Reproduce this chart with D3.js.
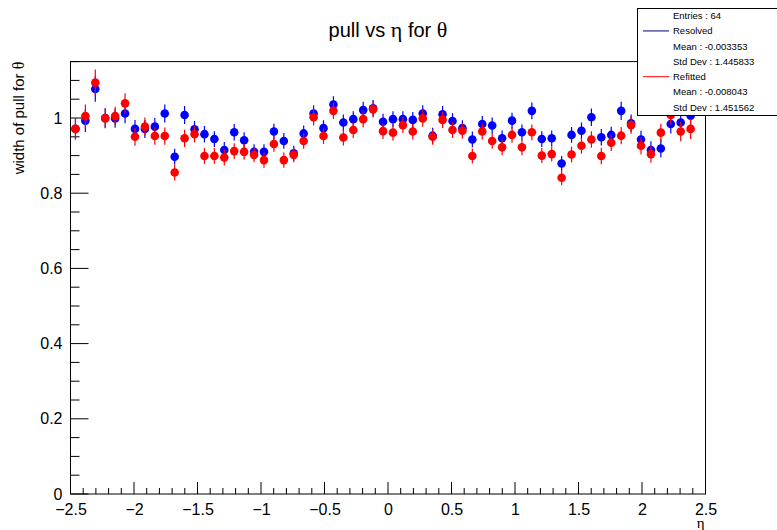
<!DOCTYPE html>
<html>
<head>
<meta charset="utf-8">
<script src="https://cdn.jsdelivr.net/npm/d3@7"></script>
<style>
  html, body { margin: 0; padding: 0; background: #fff; }
  svg { display: block; font-family: "Liberation Sans", Arial, Helvetica, sans-serif; }
</style>
</head>
<body>
<svg id="chart" width="777" height="530"></svg>
<script>
// Histogram binning in eta: 64 bins from -2.5 to 2.5
const etaMin = -2.5, etaMax = 2.5, nBins = 64;

// Fitted pull widths per eta bin (last bin empty)
const resolved = [0.971, 0.993, 1.077, 1.000, 0.999, 1.012, 0.971, 0.971, 0.977, 1.012,
  0.897, 1.008, 0.970, 0.957, 0.944, 0.915, 0.962, 0.941, 0.910, 0.910,
  0.964, 0.939, 0.906, 0.959, 1.012, 0.973, 1.036, 0.988, 0.997, 1.021,
  1.026, 0.990, 0.997, 0.997, 0.995, 1.012, 0.953, 1.010, 0.992, 0.973,
  0.943, 0.984, 0.980, 0.946, 0.993, 0.962, 1.019, 0.944, 0.946, 0.879,
  0.955, 0.966, 1.002, 0.949, 0.955, 1.019, 0.986, 0.943, 0.915, 0.919,
  0.984, 0.988, 1.006, null];
const resolvedErr = [0.028, 0.030, 0.034, 0.026, 0.025, 0.026, 0.024, 0.024, 0.023, 0.024,
  0.021, 0.024, 0.022, 0.022, 0.021, 0.021, 0.022, 0.021, 0.020, 0.020,
  0.021, 0.021, 0.020, 0.021, 0.022, 0.021, 0.022, 0.021, 0.021, 0.022,
  0.022, 0.021, 0.021, 0.021, 0.021, 0.022, 0.021, 0.022, 0.021, 0.021,
  0.021, 0.021, 0.021, 0.021, 0.021, 0.021, 0.022, 0.021, 0.021, 0.020,
  0.021, 0.022, 0.023, 0.022, 0.022, 0.024, 0.023, 0.023, 0.023, 0.024,
  0.025, 0.026, 0.027, null];

const refitted = [0.971, 1.005, 1.094, 0.999, 1.005, 1.039, 0.950, 0.977, 0.952, 0.952,
  0.855, 0.946, 0.957, 0.899, 0.899, 0.895, 0.912, 0.910, 0.902, 0.888,
  0.931, 0.888, 0.902, 0.939, 1.002, 0.952, 1.019, 0.948, 0.968, 0.997,
  1.023, 0.965, 0.961, 0.981, 0.964, 0.999, 0.950, 0.995, 0.968, 0.966,
  0.899, 0.964, 0.939, 0.922, 0.955, 0.922, 0.962, 0.900, 0.904, 0.841,
  0.903, 0.926, 0.943, 0.899, 0.934, 0.953, 0.981, 0.926, 0.904, 0.961,
  1.008, 0.964, 0.971, null];
const refittedErr = [0.028, 0.031, 0.035, 0.026, 0.025, 0.027, 0.024, 0.024, 0.023, 0.023,
  0.021, 0.023, 0.022, 0.021, 0.021, 0.021, 0.021, 0.021, 0.020, 0.020,
  0.021, 0.020, 0.020, 0.021, 0.022, 0.021, 0.022, 0.021, 0.021, 0.022,
  0.022, 0.021, 0.021, 0.021, 0.021, 0.022, 0.021, 0.022, 0.021, 0.021,
  0.020, 0.021, 0.021, 0.021, 0.021, 0.021, 0.021, 0.020, 0.020, 0.020,
  0.021, 0.021, 0.022, 0.022, 0.022, 0.023, 0.023, 0.023, 0.023, 0.024,
  0.025, 0.026, 0.027, null];

const xTicks = [-2.5, -2, -1.5, -1, -0.5, 0, 0.5, 1, 1.5, 2, 2.5];
const xTickLabels = ["\u22122.5", "\u22122", "\u22121.5", "\u22121", "\u22120.5", "0", "0.5", "1", "1.5", "2", "2.5"];
const yTicks = [0, 0.2, 0.4, 0.6, 0.8, 1];
const yTickLabels = ["0", "0.2", "0.4", "0.6", "0.8", "1"];

const statsLines = [
  { text: "Entries : 64" },
  { text: "Resolved", color: "#000080" },
  { text: "Mean : -0.003353" },
  { text: "Std Dev : 1.445833" },
  { text: "Refitted", color: "#ff0000" },
  { text: "Mean : -0.008043" },
  { text: "Std Dev : 1.451562" }
];

const serif = "'Liberation Serif', 'DejaVu Serif', serif";
const svg = d3.select("#chart");
const frame = { left: 70.5, right: 705.5, top: 61.6, bottom: 494 };

const x = d3.scaleLinear().domain([etaMin, etaMax]).range([frame.left, frame.right]);
const y = d3.scaleLinear().domain([0, 1.15]).range([frame.bottom, frame.top]);
const binW = (etaMax - etaMin) / nBins;
const centers = d3.range(nBins).map(i => etaMin + (i + 0.5) * binW);

// Title with Greek symbols in a serif face
const title = svg.append("text")
  .attr("x", 388).attr("y", 37)
  .attr("text-anchor", "middle")
  .attr("font-size", 20);
title.append("tspan").text("pull vs ");
title.append("tspan").attr("font-family", serif).attr("font-size", 22).text("\u03b7");
title.append("tspan").text(" for ");
title.append("tspan").attr("font-family", serif).attr("font-size", 22).text("\u03b8");

// Axes
const xMinor = d3.range(-25, 26).map(v => v / 10).filter(v => Math.abs(v * 2 - Math.round(v * 2)) > 1e-6);
const yMinor = d3.range(0, 24).map(v => v * 0.05).filter(v => Math.abs(v * 5 - Math.round(v * 5)) > 1e-6);

const xAxis = d3.axisBottom(x).tickValues(xTicks).tickSize(0).tickFormat((d, i) => xTickLabels[i]);
const gx = svg.append("g").attr("transform", `translate(0,${frame.bottom})`).call(xAxis);
gx.select(".domain").remove();
gx.selectAll("text").attr("font-size", 16).attr("font-family", null).attr("fill", "#000").attr("dy", "0.95em").attr("y", 6);

const yAxis = d3.axisLeft(y).tickValues(yTicks).tickSize(0).tickFormat((d, i) => yTickLabels[i]);
const gy = svg.append("g").attr("transform", `translate(${frame.left},0)`).call(yAxis);
gy.select(".domain").remove();
gy.selectAll("text").attr("font-size", 16).attr("font-family", null).attr("fill", "#000").attr("x", -8);

const ticks = svg.append("g").attr("stroke", "#000").attr("stroke-width", 1);
xTicks.forEach(v => ticks.append("line").attr("x1", x(v)).attr("x2", x(v)).attr("y1", frame.bottom).attr("y2", frame.bottom - 12));
xMinor.forEach(v => ticks.append("line").attr("x1", x(v)).attr("x2", x(v)).attr("y1", frame.bottom).attr("y2", frame.bottom - 6));
yTicks.forEach(v => ticks.append("line").attr("x1", frame.left).attr("x2", frame.left + 18).attr("y1", y(v)).attr("y2", y(v)));
yMinor.forEach(v => ticks.append("line").attr("x1", frame.left).attr("x2", frame.left + 9).attr("y1", y(v)).attr("y2", y(v)));

// Frame
svg.append("rect")
  .attr("x", frame.left).attr("y", frame.top)
  .attr("width", frame.right - frame.left).attr("height", frame.bottom - frame.top)
  .attr("fill", "none").attr("stroke", "#000").attr("stroke-width", 1);

// Axis titles
const yTitle = svg.append("text")
  .attr("transform", `translate(24,${frame.top}) rotate(-90)`)
  .attr("text-anchor", "end")
  .attr("font-size", 15);
yTitle.append("tspan").text("width of pull for ");
yTitle.append("tspan").attr("font-family", serif).attr("font-size", 16).text("\u03b8");
svg.append("text")
  .attr("font-family", serif)
  .attr("x", frame.right - 1).attr("y", 528)
  .attr("text-anchor", "end")
  .attr("font-size", 15)
  .text("\u03b7");

// Data series: error bars with filled circle markers
function drawSeries(vals, errs, color) {
  const pts = centers.map((c, i) => ({ c, v: vals[i], e: errs[i] })).filter(d => d.v != null);
  const g = svg.append("g");
  g.selectAll("line").data(pts).join("line")
    .attr("x1", d => x(d.c)).attr("x2", d => x(d.c))
    .attr("y1", d => y(d.v - d.e)).attr("y2", d => y(d.v + d.e))
    .attr("stroke", color).attr("stroke-width", 1.2);
  g.selectAll("circle").data(pts).join("circle")
    .attr("cx", d => x(d.c)).attr("cy", d => y(d.v))
    .attr("r", 4.3).attr("fill", color);
}
drawSeries(resolved, resolvedErr, "#0000ff");
drawSeries(refitted, refittedErr, "#ff0000");

// Statistics box
const box = { x: 637.5, y: 8.5, w: 145, h: 107 };
const sb = svg.append("g");
sb.append("rect").attr("x", box.x).attr("y", box.y).attr("width", box.w).attr("height", box.h)
  .attr("fill", "#fff").attr("stroke", "#000").attr("stroke-width", 1);
statsLines.forEach((s, i) => {
  const cy = 15.7 + i * 15.25;
  if (s.color) {
    sb.append("line").attr("x1", 643).attr("x2", 669).attr("y1", cy).attr("y2", cy)
      .attr("stroke", s.color).attr("stroke-width", 1);
  }
  sb.append("text").attr("x", 673).attr("y", cy).attr("dy", "0.35em")
    .attr("font-size", 9.5).text(s.text);
});
</script>
</body>
</html>
